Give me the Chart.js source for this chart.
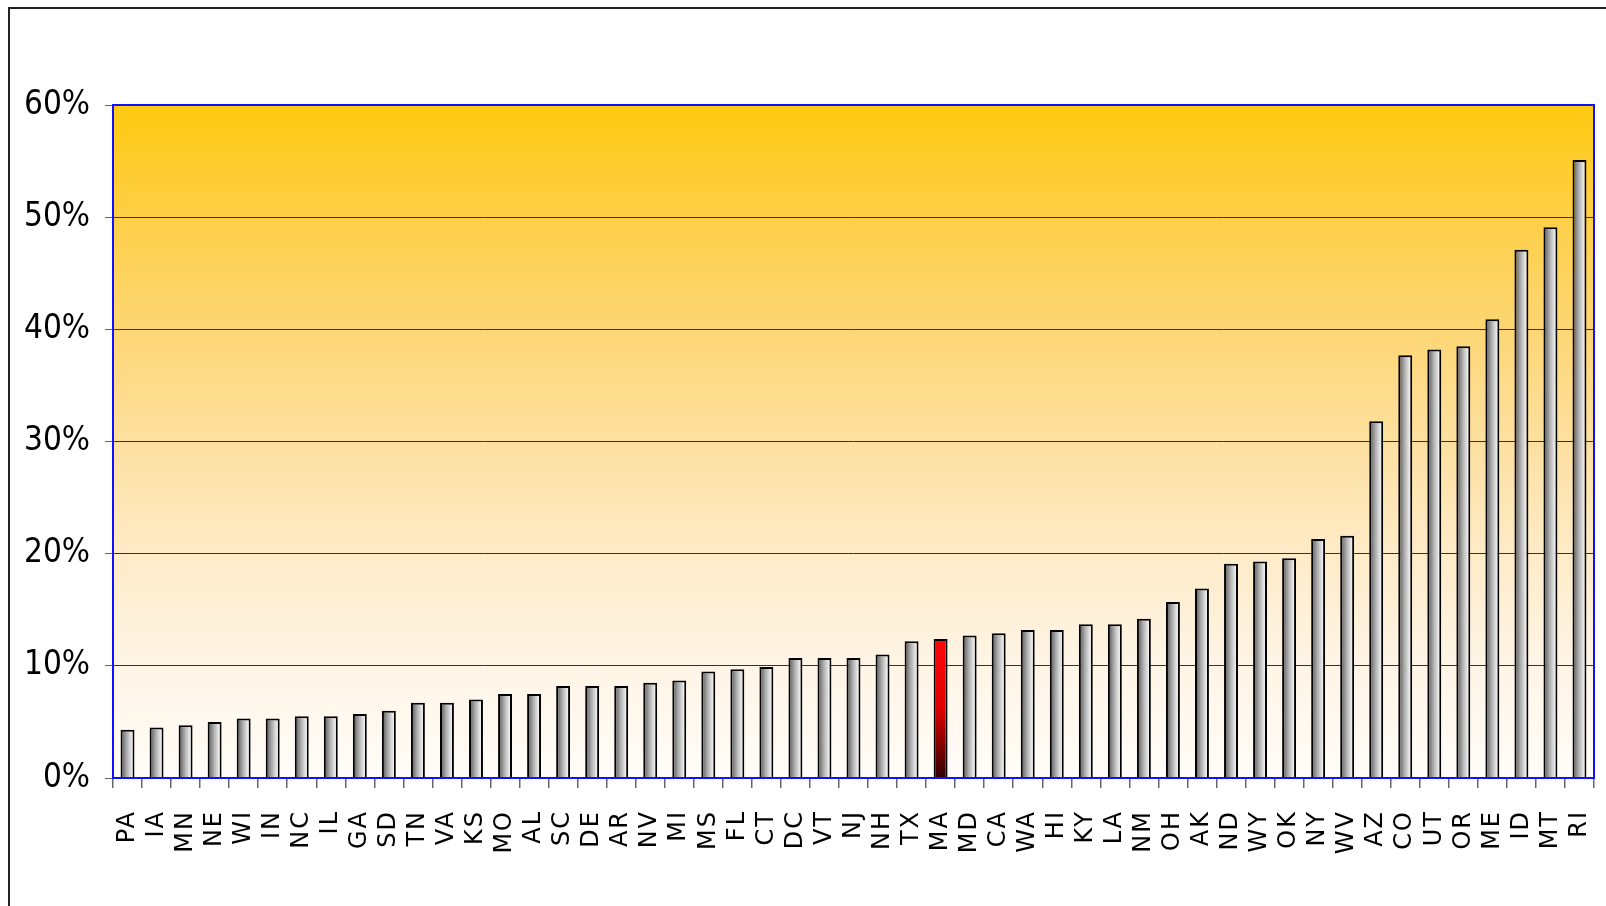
<!DOCTYPE html>
<html>
<head>
<meta charset="utf-8">
<script src="https://cdn.jsdelivr.net/npm/chart.js@4"></script>
<style>
  body { margin: 0; background: #fff; }
  #wrap { position: relative; width: 1606px; height: 906px; }
  #frame {
    position: absolute; left: 8px; top: 7px; right: 0; bottom: 0;
    border-top: 2px solid #222; border-left: 2px solid #222;
  }
  canvas { position: absolute; left: 0; top: 0; }
</style>
</head>
<body>
<div id="wrap">
  <div id="frame"></div>
  <canvas id="chart" width="1606" height="906"></canvas>
</div>
<script>
// States, sorted by value
const states = ['PA', 'IA', 'MN', 'NE', 'WI', 'IN', 'NC', 'IL', 'GA', 'SD',
  'TN', 'VA', 'KS', 'MO', 'AL', 'SC', 'DE', 'AR', 'NV', 'MI',
  'MS', 'FL', 'CT', 'DC', 'VT', 'NJ', 'NH', 'TX', 'MA', 'MD',
  'CA', 'WA', 'HI', 'KY', 'LA', 'NM', 'OH', 'AK', 'ND', 'WY',
  'OK', 'NY', 'WV', 'AZ', 'CO', 'UT', 'OR', 'ME', 'ID', 'MT', 'RI'];

// Percent values
const values = [4.3, 4.5, 4.7, 5.0, 5.3, 5.3, 5.5, 5.5, 5.7, 6.0,
  6.7, 6.7, 7.0, 7.5, 7.5, 8.2, 8.2, 8.2, 8.5, 8.7,
  9.5, 9.7, 9.9, 10.7, 10.7, 10.7, 11.0, 12.2, 12.4, 12.7,
  12.9, 13.2, 13.2, 13.7, 13.7, 14.2, 15.7, 16.9, 19.1, 19.3,
  19.6, 21.3, 21.6, 31.8, 37.7, 38.2, 38.5, 40.9, 47.1, 49.1, 55.1];

const yTicks = [0, 10, 20, 30, 40, 50, 60];
const highlight = 'MA';

// Plot background + blue frame; spaced letters for the state labels
const plotFrame = {
  id: 'plotFrame',
  beforeDraw(chart) {
    const { ctx, chartArea: a } = chart;
    const g = ctx.createLinearGradient(0, a.top, 0, a.bottom);
    g.addColorStop(0, '#ffca10');
    g.addColorStop(0.17, '#fecf48');
    g.addColorStop(0.33, '#fdd673');
    g.addColorStop(0.5, '#fde0a0');
    g.addColorStop(0.67, '#feebc8');
    g.addColorStop(0.83, '#fff5e6');
    g.addColorStop(1, '#fffcf8');
    ctx.save();
    ctx.fillStyle = g;
    ctx.fillRect(a.left, a.top, a.right - a.left, a.bottom - a.top);
    ctx.restore();
  },
  afterDatasetsDraw(chart) {
    const { ctx, chartArea: a } = chart;
    ctx.save();
    ctx.strokeStyle = '#1010ff';
    ctx.lineWidth = 2;
    ctx.strokeRect(a.left, a.top, a.right - a.left, a.bottom - a.top);
    ctx.restore();
    // x labels are drawn after this (ticks z: 1)
    ctx.letterSpacing = '2px';
  },
  afterDraw(chart) {
    chart.ctx.letterSpacing = '0px';
  }
};

function barFill(c) {
  const chart = c.chart;
  if (!chart.chartArea || c.type !== 'data') return '#bbbbbb';
  const ctx = chart.ctx;
  const x = chart.scales.x.getPixelForValue(c.dataIndex);
  if (states[c.dataIndex] === highlight) {
    const top = chart.scales.y.getPixelForValue(values[c.dataIndex]);
    const g = ctx.createLinearGradient(x - 4, top, x + 4, chart.chartArea.bottom);
    g.addColorStop(0, '#ff0808');
    g.addColorStop(0.5, '#e00000');
    g.addColorStop(1, '#300000');
    return g;
  }
  const g = ctx.createLinearGradient(x - 6, 0, x + 6, 0);
  g.addColorStop(0, '#606060');
  g.addColorStop(0.45, '#b0b0b0');
  g.addColorStop(1, '#ffffff');
  return g;
}

new Chart(document.getElementById('chart'), {
  type: 'bar',
  data: {
    labels: states,
    datasets: [{
      data: values,
      backgroundColor: barFill,
      borderColor: '#000',
      borderWidth: 2,
      barPercentage: 0.48,
      categoryPercentage: 1
    }]
  },
  options: {
    responsive: false,
    animation: false,
    layout: { padding: { top: 105, right: 12, left: 0, bottom: 0 } },
    plugins: { legend: { display: false }, tooltip: { enabled: false } },
    scales: {
      x: {
        afterFit(s) { s.height = 128; s.paddingLeft = 0; s.paddingRight = 0; },
        grid: {
          offset: true,
          drawOnChartArea: false,
          tickLength: 10,
          tickColor: '#666',
          lineWidth: 1.5
        },
        border: { display: false },
        ticks: {
          z: 1,
          autoSkip: false,
          minRotation: 90,
          maxRotation: 90,
          padding: 22,
          color: '#000',
          font: { family: "'DejaVu Sans', sans-serif", size: 24 }
        }
      },
      y: {
        min: 0,
        max: 60,
        afterFit(s) { s.width = 113; s.paddingTop = 0; s.paddingBottom = 0; },
        afterBuildTicks(s) { s.ticks = yTicks.map(v => ({ value: v })); },
        grid: {
          color: '#333',
          lineWidth: 1,
          tickLength: 8,
          tickColor: '#666'
        },
        border: { display: false },
        ticks: {
          padding: 15,
          color: '#000',
          font: { family: "'Liberation Sans Narrow', 'DejaVu Sans Condensed', sans-serif", size: 33 },
          callback: v => v + '%'
        }
      }
    }
  },
  plugins: [plotFrame]
});
</script>
</body>
</html>
